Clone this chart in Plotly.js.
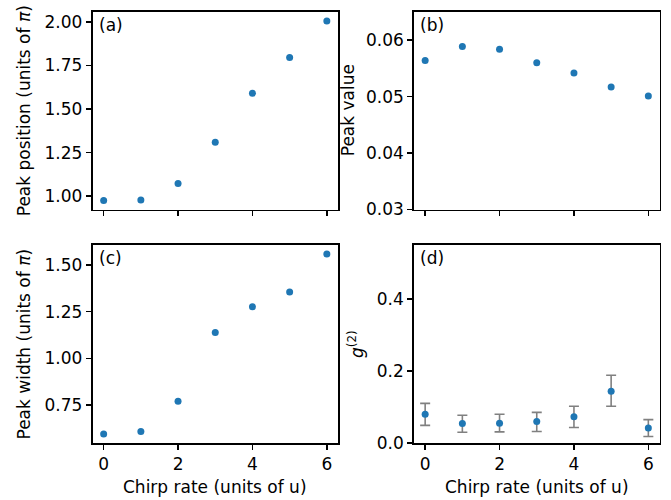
<!DOCTYPE html>
<html>
<head>
<meta charset="utf-8">
<script src="https://cdn.plot.ly/plotly-3.0.1.min.js"></script>
<style>html,body{margin:0;padding:0;background:#fff;}</style>
</head>
<body>
<div id="chart" style="width:671px;height:500px;"></div>
<script>
// ---- data ----
const chirpRate = [0, 1, 2, 3, 4, 5, 6];
const peakPosition = [0.975, 0.978, 1.073, 1.310, 1.590, 1.795, 2.005];
const peakValue = [0.0564, 0.0589, 0.0584, 0.0560, 0.0542, 0.0517, 0.0501];
const peakWidth = [0.596, 0.610, 0.771, 1.138, 1.276, 1.355, 1.558];
const g2 = [0.080, 0.054, 0.055, 0.060, 0.073, 0.144, 0.042];
const g2ErrPlus = [0.030, 0.023, 0.025, 0.025, 0.029, 0.044, 0.023];
const g2ErrMinus = [0.031, 0.024, 0.024, 0.028, 0.030, 0.042, 0.024];
const xTicks = [0, 2, 4, 6];
const posTicks = [1.00, 1.25, 1.50, 1.75, 2.00];
const valTicks = [0.03, 0.04, 0.05, 0.06];
const widthTicks = [0.75, 1.00, 1.25, 1.50];
const g2Ticks = [0.0, 0.2, 0.4];
const panelLabels = ['(a)', '(b)', '(c)', '(d)'];
const xTitle = 'Chirp rate (units of u)';
const yTitles = ['Peak position (units of <i>π</i>)', 'Peak value', 'Peak width (units of <i>π</i>)', '<i>g</i><sup>(2)</sup>'];

// ---- helpers ----
const W = 671, H = 500;
function autoRange(arr) {
  const mn = Math.min(...arr), mx = Math.max(...arr), d = mx - mn;
  return [mn - 0.05 * d, mx + 0.05 * d];
}
const blue = '#1f77b4';
const font = {family: 'DejaVu Sans, sans-serif', size: 17, color: '#000'};
const box = {
  a: {x0: 92.5, x1: 338, y0: 12, y1: 209.5},
  b: {x0: 414, x1: 659.5, y0: 12, y1: 209.5},
  c: {x0: 92.5, x1: 338, y0: 245, y1: 443},
  d: {x0: 414, x1: 659.5, y0: 245, y1: 443}
};
const px = v => v / W, py = v => 1 - v / H;

function xax(b, labels, anchor) {
  return {
    domain: [px(b.x0), px(b.x1)], anchor: anchor, range: [-0.3, 6.3],
    tickmode: 'array', tickvals: xTicks, showticklabels: labels,
    ticks: 'outside', ticklen: 5, tickwidth: 1.6, tickcolor: '#000',
    showline: true, mirror: true, linewidth: 1.8, linecolor: '#000',
    showgrid: false, zeroline: false, tickfont: font
  };
}
function yax(b, range, ticks, fmt, anchor) {
  return {
    domain: [py(b.y1), py(b.y0)], anchor: anchor, range: range,
    tickmode: 'array', tickvals: ticks, tickformat: fmt,
    ticks: 'outside', ticklen: 5, tickwidth: 1.6, tickcolor: '#000',
    showline: true, mirror: true, linewidth: 1.8, linecolor: '#000',
    showgrid: false, zeroline: false, tickfont: font
  };
}
const mk = {color: blue, size: 7};
const traces = [
  {x: chirpRate, y: peakPosition, type: 'scatter', mode: 'markers', marker: mk, xaxis: 'x', yaxis: 'y'},
  {x: chirpRate, y: peakValue, type: 'scatter', mode: 'markers', marker: mk, xaxis: 'x2', yaxis: 'y2'},
  {x: chirpRate, y: peakWidth, type: 'scatter', mode: 'markers', marker: mk, xaxis: 'x3', yaxis: 'y3'},
  {x: chirpRate, y: g2, type: 'scatter', mode: 'markers', marker: mk, xaxis: 'x4', yaxis: 'y4',
   error_y: {type: 'data', symmetric: false, array: g2ErrPlus, arrayminus: g2ErrMinus,
             color: '#808080', thickness: 1.6, width: 5}}
];

const ann = [];
const keys = ['a', 'b', 'c', 'd'];
keys.forEach((k, i) => {
  const b = box[k];
  ann.push({text: panelLabels[i], xref: 'paper', yref: 'paper', x: px(b.x0 + 4), y: py(b.y0 + 13),
            xanchor: 'left', yanchor: 'middle', showarrow: false, font: font});
});
const yTitleX = [23.5, 347.5, 23.5, 356];
keys.forEach((k, i) => {
  const b = box[k];
  ann.push({text: yTitles[i], xref: 'paper', yref: 'paper', x: px(yTitleX[i]), y: py((b.y0 + b.y1) / 2),
            xanchor: 'center', yanchor: 'middle', textangle: -90, showarrow: false, font: font});
});
['c', 'd'].forEach(k => {
  const b = box[k];
  ann.push({text: xTitle, xref: 'paper', yref: 'paper', x: px((b.x0 + b.x1) / 2), y: py(486.7),
            xanchor: 'center', yanchor: 'middle', showarrow: false, font: font});
});

const layout = {
  width: W, height: H, margin: {l: 0, r: 0, t: 0, b: 0},
  paper_bgcolor: '#fff', plot_bgcolor: '#fff', showlegend: false, font: font,
  xaxis: xax(box.a, false, 'y'),
  yaxis: yax(box.a, autoRange(peakPosition), posTicks, '.2f', 'x'),
  xaxis2: xax(box.b, false, 'y2'),
  yaxis2: yax(box.b, [0.03, 0.065], valTicks, '.2f', 'x2'),
  xaxis3: xax(box.c, true, 'y3'),
  yaxis3: yax(box.c, autoRange(peakWidth), widthTicks, '.2f', 'x3'),
  xaxis4: xax(box.d, true, 'y4'),
  yaxis4: yax(box.d, [0, 0.55], g2Ticks, '.1f', 'x4'),
  annotations: ann
};
Plotly.newPlot('chart', traces, layout, {staticPlot: true, displayModeBar: false});
</script>
</body>
</html>
